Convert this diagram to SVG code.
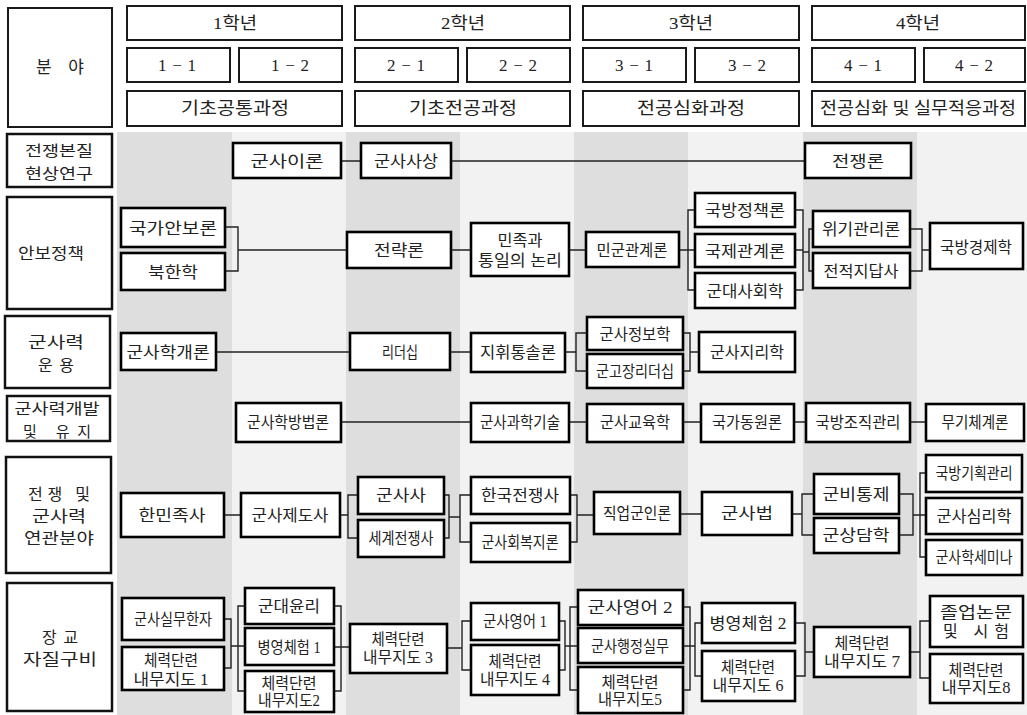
<svg xmlns="http://www.w3.org/2000/svg" width="1027" height="715" viewBox="0 0 1027 715">
<style>
.bg{fill:#fff}
.g{fill:#dedede}
.l{fill:#f2f2f2}
.h rect{fill:#fff;stroke:#1a1a1a;stroke-width:2}
.h text{font-family:"Liberation Serif","Noto Sans CJK KR",serif;font-size:17px;fill:#222;text-anchor:middle;dominant-baseline:central}
.r rect{fill:#fff;stroke:#111;stroke-width:2.5}
.r text{font-family:"Noto Sans CJK KR",sans-serif;font-size:16px;fill:#222;text-anchor:middle;dominant-baseline:central}
.r text.s{font-size:15px}
.n rect{fill:#fff;stroke:#000;stroke-width:2.6}
.n text{font-family:"Liberation Serif","Noto Sans CJK KR",sans-serif;font-size:16px;fill:#222;text-anchor:middle;dominant-baseline:central}
#connectors path{fill:none;stroke:#222;stroke-width:1.4}
</style>
<rect class="bg" x="0" y="0" width="1027" height="715"/>
<g id="stripes">
<rect class="g" x="117" y="132" width="115" height="583"/>
<rect class="l" x="232" y="132" width="114" height="583"/>
<rect class="g" x="346" y="132" width="114" height="583"/>
<rect class="l" x="460" y="132" width="114" height="583"/>
<rect class="g" x="574" y="132" width="114" height="583"/>
<rect class="l" x="688" y="132" width="115" height="583"/>
<rect class="g" x="803" y="132" width="114" height="583"/>
<rect class="l" x="917" y="132" width="110" height="583"/>
</g>
<g id="header" class="h">
<g id="h-field"><rect x="8" y="8" width="104" height="119"/><text x="60" y="67" textLength="48" lengthAdjust="spacing">분 야</text></g>
<g id="h-y1"><rect x="127" y="6" width="215" height="34"/><text x="235" y="23" textLength="44" lengthAdjust="spacingAndGlyphs">1학년</text></g>
<g id="h-y2"><rect x="355" y="6" width="215" height="34"/><text x="463" y="23" textLength="44" lengthAdjust="spacingAndGlyphs">2학년</text></g>
<g id="h-y3"><rect x="583" y="6" width="216" height="34"/><text x="691" y="23" textLength="44" lengthAdjust="spacingAndGlyphs">3학년</text></g>
<g id="h-y4"><rect x="812" y="6" width="213" height="34"/><text x="918" y="23" textLength="44" lengthAdjust="spacingAndGlyphs">4학년</text></g>
<g id="h-s11"><rect x="127" y="48" width="103" height="34"/><text x="177" y="65" textLength="38" lengthAdjust="spacing">1−1</text></g>
<g id="h-s12"><rect x="239" y="48" width="103" height="34"/><text x="290" y="65" textLength="38" lengthAdjust="spacing">1−2</text></g>
<g id="h-s21"><rect x="355" y="48" width="103" height="34"/><text x="406" y="65" textLength="38" lengthAdjust="spacing">2−1</text></g>
<g id="h-s22"><rect x="467" y="48" width="103" height="34"/><text x="518" y="65" textLength="38" lengthAdjust="spacing">2−2</text></g>
<g id="h-s31"><rect x="583" y="48" width="103" height="34"/><text x="634" y="65" textLength="38" lengthAdjust="spacing">3−1</text></g>
<g id="h-s32"><rect x="695" y="48" width="104" height="34"/><text x="747" y="65" textLength="38" lengthAdjust="spacing">3−2</text></g>
<g id="h-s41"><rect x="812" y="48" width="103" height="34"/><text x="863" y="65" textLength="38" lengthAdjust="spacing">4−1</text></g>
<g id="h-s42"><rect x="924" y="48" width="101" height="34"/><text x="974" y="65" textLength="38" lengthAdjust="spacing">4−2</text></g>
<g id="h-c1"><rect x="127" y="91" width="215" height="35"/><text x="235" y="108" textLength="108" lengthAdjust="spacingAndGlyphs">기초공통과정</text></g>
<g id="h-c2"><rect x="355" y="91" width="215" height="35"/><text x="463" y="108" textLength="108" lengthAdjust="spacingAndGlyphs">기초전공과정</text></g>
<g id="h-c3"><rect x="583" y="91" width="216" height="35"/><text x="691" y="108" textLength="108" lengthAdjust="spacingAndGlyphs">전공심화과정</text></g>
<g id="h-c4"><rect x="812" y="91" width="213" height="35"/><text x="918" y="108" textLength="196" lengthAdjust="spacingAndGlyphs">전공심화 및 실무적응과정</text></g>
</g>
<g id="rows" class="r">
<g id="row1"><rect x="7" y="134" width="105" height="53"/><text class="s" x="59" y="149" textLength="68" lengthAdjust="spacingAndGlyphs">전쟁본질</text><text class="s" x="59" y="172" textLength="68" lengthAdjust="spacingAndGlyphs">현상연구</text></g>
<g id="row2"><rect x="7" y="197" width="105" height="112"/><text x="51" y="252" textLength="66" lengthAdjust="spacingAndGlyphs">안보정책</text></g>
<g id="row3"><rect x="5" y="316" width="105" height="72"/><text x="56" y="341" textLength="56" lengthAdjust="spacingAndGlyphs">군사력</text><text x="56" y="364" textLength="36" lengthAdjust="spacing">운용</text></g>
<g id="row4"><rect x="7" y="396" width="103" height="45"/><text class="s" x="57" y="407" textLength="85" lengthAdjust="spacingAndGlyphs">군사력개발</text><text class="s" x="57" y="430" textLength="68" lengthAdjust="spacing">및 유지</text></g>
<g id="row5"><rect x="6" y="457" width="105" height="116"/><text x="59" y="493" textLength="62" lengthAdjust="spacing">전쟁 및</text><text x="59" y="515" textLength="54" lengthAdjust="spacingAndGlyphs">군사력</text><text x="59" y="537" textLength="70" lengthAdjust="spacingAndGlyphs">연관분야</text></g>
<g id="row6"><rect x="7" y="583" width="105" height="128"/><text x="60" y="636" textLength="36" lengthAdjust="spacing">장교</text><text x="60" y="658" textLength="74" lengthAdjust="spacingAndGlyphs">자질구비</text></g>
</g>
<g id="connectors">
<path d="M341 161H361M451 161H805"/>
<path d="M225 227H238V271H225M238 250H347"/>
<path d="M451 250H471M569 250H586M679 250H695M695 210H688V290H695"/>
<path d="M795 210H803V290H795M795 250H803M803 252H809M813 229H809V271H813"/>
<path d="M910 229H922V271H910M922 250H930"/>
<path d="M216 352H350M450 352H471M565 352H576M587 333H576V371H587M683 333H690V371H683M690 352H699"/>
<path d="M341 422H471M569 422H587M683 422H701M794 422H806M910 422H926"/>
<path d="M224 515H241M340 515H348M358 495H348V538H358M444 495H449V538H444M449 517H460M471 495H460V542H471"/>
<path d="M570 495H577V542H570M577 515H594M680 514H702M792 514H802M814 494H802V535H814"/>
<path d="M899 494H913V535H899M913 515H926M926 473H920V557H926"/>
<path d="M224 619H231V668H224M231 646H245M245 606H238V691H245"/>
<path d="M334 606H341V691H334M334 647H350M447 648H462M471 621H462V670H471"/>
<path d="M559 621H565V670H559M565 646H578M578 607H570V690H578"/>
<path d="M683 607H690V690H683M683 646H695M702 623H695V676H702"/>
<path d="M795 623H805V676H795M805 652H814M910 652H920M930 621H920V678H930"/>
</g>
<g id="nodes" class="n">
<g id="n01"><rect x="233" y="143" width="108" height="35"/><text x="287" y="161" textLength="73" lengthAdjust="spacingAndGlyphs">군사이론</text></g>
<g id="n02"><rect x="361" y="143" width="90" height="35"/><text x="406" y="161" textLength="64" lengthAdjust="spacingAndGlyphs">군사사상</text></g>
<g id="n03"><rect x="805" y="143" width="106" height="35"/><text x="858" y="161" textLength="52" lengthAdjust="spacingAndGlyphs">전쟁론</text></g>
<g id="n04"><rect x="121" y="208" width="104" height="39"/><text x="173" y="228" textLength="88" lengthAdjust="spacingAndGlyphs">국가안보론</text></g>
<g id="n05"><rect x="121" y="253" width="104" height="37"/><text x="173" y="272" textLength="50" lengthAdjust="spacingAndGlyphs">북한학</text></g>
<g id="n06"><rect x="347" y="232" width="104" height="36"/><text x="399" y="250" textLength="50" lengthAdjust="spacingAndGlyphs">전략론</text></g>
<g id="n07"><rect x="471" y="223" width="98" height="53"/><text x="520" y="240" textLength="45" lengthAdjust="spacingAndGlyphs">민족과</text><text x="520" y="260" textLength="84" lengthAdjust="spacingAndGlyphs">통일의 논리</text></g>
<g id="n08"><rect x="586" y="232" width="93" height="35"/><text x="632" y="250" textLength="71" lengthAdjust="spacingAndGlyphs">민군관계론</text></g>
<g id="n09"><rect x="695" y="193" width="100" height="34"/><text x="745" y="210" textLength="80" lengthAdjust="spacingAndGlyphs">국방정책론</text></g>
<g id="n10"><rect x="695" y="234" width="100" height="33"/><text x="745" y="251" textLength="80" lengthAdjust="spacingAndGlyphs">국제관계론</text></g>
<g id="n11"><rect x="695" y="273" width="100" height="35"/><text x="745" y="291" textLength="77" lengthAdjust="spacingAndGlyphs">군대사회학</text></g>
<g id="n12"><rect x="813" y="211" width="97" height="36"/><text x="861" y="229" textLength="78" lengthAdjust="spacingAndGlyphs">위기관리론</text></g>
<g id="n13"><rect x="813" y="253" width="97" height="35"/><text x="861" y="271" textLength="75" lengthAdjust="spacingAndGlyphs">전적지답사</text></g>
<g id="n14"><rect x="930" y="223" width="93" height="46"/><text x="976" y="247" textLength="72" lengthAdjust="spacingAndGlyphs">국방경제학</text></g>
<g id="n15"><rect x="121" y="333" width="95" height="37"/><text x="168" y="352" textLength="83" lengthAdjust="spacingAndGlyphs">군사학개론</text></g>
<g id="n16"><rect x="350" y="333" width="100" height="37"/><text x="400" y="352" textLength="36" lengthAdjust="spacingAndGlyphs">리더십</text></g>
<g id="n17"><rect x="471" y="333" width="94" height="39"/><text x="518" y="352" textLength="76" lengthAdjust="spacingAndGlyphs">지휘통솔론</text></g>
<g id="n18"><rect x="587" y="317" width="96" height="33"/><text x="635" y="334" textLength="71" lengthAdjust="spacingAndGlyphs">군사정보학</text></g>
<g id="n19"><rect x="587" y="354" width="96" height="34"/><text x="635" y="371" textLength="78" lengthAdjust="spacingAndGlyphs">군고장리더십</text></g>
<g id="n20"><rect x="699" y="332" width="96" height="40"/><text x="747" y="352" textLength="74" lengthAdjust="spacingAndGlyphs">군사지리학</text></g>
<g id="n21"><rect x="236" y="403" width="105" height="39"/><text x="288" y="422" textLength="82" lengthAdjust="spacingAndGlyphs">군사학방법론</text></g>
<g id="n22"><rect x="471" y="403" width="98" height="39"/><text x="520" y="422" textLength="80" lengthAdjust="spacingAndGlyphs">군사과학기술</text></g>
<g id="n23"><rect x="587" y="404" width="96" height="38"/><text x="635" y="422" textLength="70" lengthAdjust="spacingAndGlyphs">군사교육학</text></g>
<g id="n24"><rect x="701" y="404" width="93" height="38"/><text x="747" y="422" textLength="70" lengthAdjust="spacingAndGlyphs">국가동원론</text></g>
<g id="n25"><rect x="806" y="403" width="104" height="39"/><text x="858" y="422" textLength="85" lengthAdjust="spacingAndGlyphs">국방조직관리</text></g>
<g id="n26"><rect x="926" y="404" width="98" height="37"/><text x="975" y="422" textLength="67" lengthAdjust="spacingAndGlyphs">무기체계론</text></g>
<g id="n27"><rect x="121" y="493" width="103" height="44"/><text x="172" y="515" textLength="67" lengthAdjust="spacingAndGlyphs">한민족사</text></g>
<g id="n28"><rect x="241" y="493" width="99" height="44"/><text x="290" y="515" textLength="77" lengthAdjust="spacingAndGlyphs">군사제도사</text></g>
<g id="n29"><rect x="358" y="477" width="86" height="37"/><text x="401" y="495" textLength="50" lengthAdjust="spacingAndGlyphs">군사사</text></g>
<g id="n30"><rect x="358" y="520" width="86" height="37"/><text x="401" y="538" textLength="65" lengthAdjust="spacingAndGlyphs">세계전쟁사</text></g>
<g id="n31"><rect x="471" y="477" width="99" height="37"/><text x="520" y="495" textLength="78" lengthAdjust="spacingAndGlyphs">한국전쟁사</text></g>
<g id="n32"><rect x="471" y="523" width="99" height="39"/><text x="520" y="542" textLength="77" lengthAdjust="spacingAndGlyphs">군사회복지론</text></g>
<g id="n33"><rect x="594" y="492" width="86" height="42"/><text x="637" y="513" textLength="68" lengthAdjust="spacingAndGlyphs">직업군인론</text></g>
<g id="n34"><rect x="702" y="492" width="90" height="43"/><text x="747" y="513" textLength="52" lengthAdjust="spacingAndGlyphs">군사법</text></g>
<g id="n35"><rect x="814" y="474" width="85" height="40"/><text x="856" y="494" textLength="67" lengthAdjust="spacingAndGlyphs">군비통제</text></g>
<g id="n36"><rect x="814" y="518" width="85" height="35"/><text x="856" y="535" textLength="67" lengthAdjust="spacingAndGlyphs">군상담학</text></g>
<g id="n37"><rect x="926" y="455" width="96" height="37"/><text x="974" y="473" textLength="77" lengthAdjust="spacingAndGlyphs">국방기획관리</text></g>
<g id="n38"><rect x="926" y="498" width="96" height="36"/><text x="974" y="516" textLength="75" lengthAdjust="spacingAndGlyphs">군사심리학</text></g>
<g id="n39"><rect x="926" y="540" width="96" height="35"/><text x="974" y="557" textLength="77" lengthAdjust="spacingAndGlyphs">군사학세미나</text></g>
<g id="n40"><rect x="122" y="598" width="102" height="42"/><text x="173" y="619" textLength="78" lengthAdjust="spacingAndGlyphs">군사실무한자</text></g>
<g id="n41"><rect x="122" y="647" width="102" height="43"/><text x="171" y="660" textLength="54" lengthAdjust="spacingAndGlyphs">체력단련</text><text x="171" y="679" textLength="75" lengthAdjust="spacingAndGlyphs">내무지도 1</text></g>
<g id="n42"><rect x="245" y="588" width="89" height="36"/><text x="289" y="606" textLength="62" lengthAdjust="spacingAndGlyphs">군대윤리</text></g>
<g id="n43"><rect x="245" y="628" width="89" height="37"/><text x="289" y="647" textLength="63" lengthAdjust="spacingAndGlyphs">병영체험 1</text></g>
<g id="n44"><rect x="245" y="671" width="89" height="41"/><text x="289" y="683" textLength="55" lengthAdjust="spacingAndGlyphs">체력단련</text><text x="289" y="700" textLength="62" lengthAdjust="spacingAndGlyphs">내무지도2</text></g>
<g id="n45"><rect x="350" y="624" width="97" height="49"/><text x="398" y="639" textLength="53" lengthAdjust="spacingAndGlyphs">체력단련</text><text x="398" y="657" textLength="70" lengthAdjust="spacingAndGlyphs">내무지도 3</text></g>
<g id="n46"><rect x="471" y="603" width="88" height="37"/><text x="515" y="621" textLength="64" lengthAdjust="spacingAndGlyphs">군사영어 1</text></g>
<g id="n47"><rect x="471" y="645" width="88" height="50"/><text x="515" y="661" textLength="53" lengthAdjust="spacingAndGlyphs">체력단련</text><text x="515" y="679" textLength="70" lengthAdjust="spacingAndGlyphs">내무지도 4</text></g>
<g id="n48"><rect x="578" y="590" width="105" height="35"/><text x="630" y="607" textLength="85" lengthAdjust="spacingAndGlyphs">군사영어  2</text></g>
<g id="n49"><rect x="578" y="628" width="105" height="35"/><text x="630" y="646" textLength="78" lengthAdjust="spacingAndGlyphs">군사행정실무</text></g>
<g id="n50"><rect x="578" y="667" width="105" height="46"/><text x="630" y="682" textLength="57" lengthAdjust="spacingAndGlyphs">체력단련</text><text x="630" y="699" textLength="64" lengthAdjust="spacingAndGlyphs">내무지도5</text></g>
<g id="n51"><rect x="702" y="603" width="93" height="40"/><text x="748" y="623" textLength="77" lengthAdjust="spacingAndGlyphs">병영체험 2</text></g>
<g id="n52"><rect x="702" y="651" width="93" height="50"/><text x="748" y="667" textLength="54" lengthAdjust="spacingAndGlyphs">체력단련</text><text x="748" y="685" textLength="71" lengthAdjust="spacingAndGlyphs">내무지도 6</text></g>
<g id="n53"><rect x="814" y="627" width="96" height="50"/><text x="862" y="643" textLength="55" lengthAdjust="spacingAndGlyphs">체력단련</text><text x="862" y="661" textLength="76" lengthAdjust="spacingAndGlyphs">내무지도 7</text></g>
<g id="n54"><rect x="930" y="596" width="93" height="51"/><text x="976" y="612" textLength="72" lengthAdjust="spacingAndGlyphs">졸업논문</text><text x="976" y="631" textLength="66" lengthAdjust="spacing">및  시험</text></g>
<g id="n55"><rect x="930" y="654" width="93" height="49"/><text x="976" y="670" textLength="55" lengthAdjust="spacingAndGlyphs">체력단련</text><text x="976" y="687" textLength="69" lengthAdjust="spacingAndGlyphs">내무지도8</text></g>
</g>
</svg>
